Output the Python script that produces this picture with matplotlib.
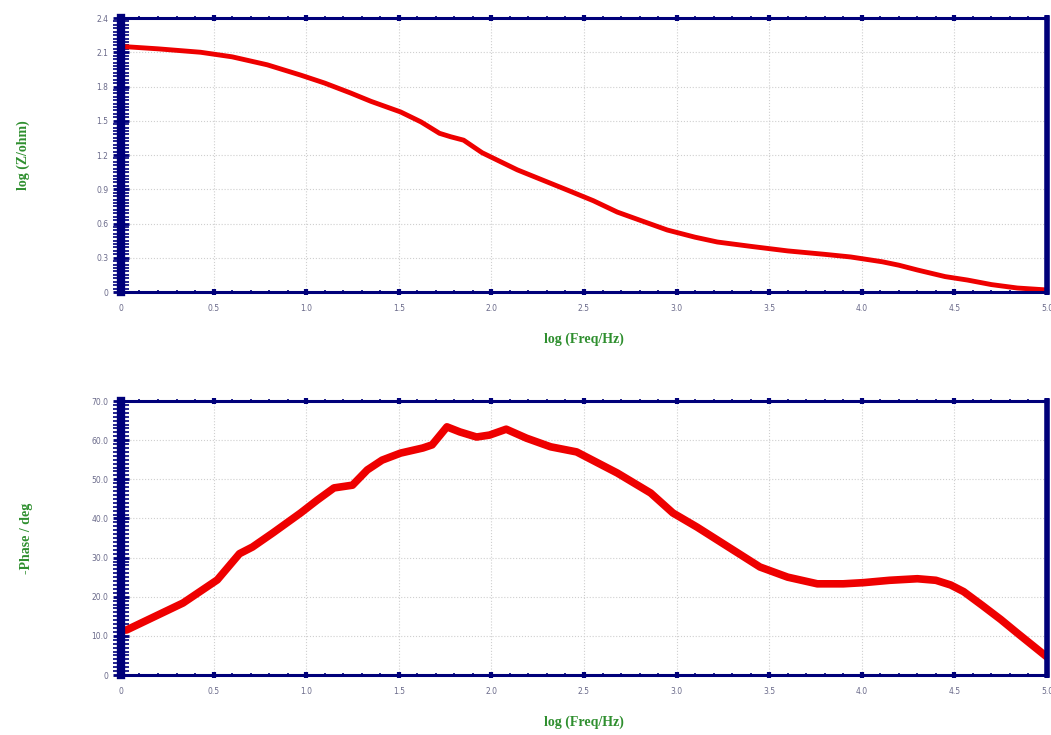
import numpy as np
import matplotlib.pyplot as plt
from matplotlib.ticker import MultipleLocator

# Bode data
freq_mod = [0.0, 0.05, 0.2, 0.43, 0.6, 0.79, 0.97, 1.1, 1.24, 1.35, 1.51, 1.62, 1.72,
            1.78, 1.85, 1.95, 2.14, 2.41, 2.55, 2.68, 2.8, 2.95, 3.1, 3.22, 3.40,
            3.6, 3.8, 3.94, 4.11, 4.2, 4.30, 4.45, 4.57, 4.7, 4.84, 5.0]
log_z = [2.15, 2.146, 2.13, 2.10, 2.06, 1.99, 1.90, 1.83, 1.743, 1.67, 1.577, 1.49,
         1.39, 1.36, 1.33, 1.22, 1.07, 0.893, 0.80, 0.70, 0.63, 0.543, 0.48, 0.438,
         0.40, 0.36, 0.33, 0.307, 0.265, 0.235, 0.193, 0.135, 0.105, 0.065, 0.035, 0.018]

freq_ph = [0.0, 0.03, 0.335, 0.52, 0.64, 0.71, 0.82, 0.97, 1.06, 1.15, 1.25, 1.33,
           1.41, 1.51, 1.63, 1.68, 1.76, 1.83, 1.92, 1.99, 2.08, 2.19, 2.32, 2.46,
           2.68, 2.86, 2.98, 3.11, 3.22, 3.45, 3.6, 3.76, 3.9, 4.01, 4.15, 4.30, 4.4,
           4.48, 4.55, 4.65, 4.75, 4.84, 5.0]
phase = [11.5, 11.5, 18.4, 24.3, 31.0, 32.7, 36.3, 41.4, 44.7, 47.8, 48.5, 52.4,
         54.9, 56.7, 58.0, 58.8, 63.4, 62.1, 60.8, 61.3, 62.8, 60.5, 58.3, 57.0,
         51.6, 46.5, 41.4, 37.8, 34.5, 27.6, 25.0, 23.3, 23.3, 23.6, 24.2, 24.6, 24.2,
         23.0, 21.3, 17.8, 14.2, 10.7, 4.6]

navy = "#00007a"
green = "#2f8f2f"

fig = plt.figure(figsize=(10.51, 7.35), dpi=100)
ax1 = fig.add_axes([0.1151, 0.6027, 0.8811, 0.3728])
ax2 = fig.add_axes([0.1151, 0.0816, 0.8811, 0.3728])

label_font = dict(family="Liberation Serif", fontweight="bold", color=green, fontsize=10)
x_ticks = np.arange(0, 5.01, 0.5)
x_labels = ["0"] + ["%.1f" % v for v in x_ticks[1:]]


def style(ax, ymax, ystep, ylabels):
    ax.set_xlim(0, 5)
    ax.set_ylim(0, ymax)
    ax.set_xticks(x_ticks)
    ax.set_xticklabels(x_labels)
    ax.set_yticks(np.arange(0, ymax + ystep / 2, ystep))
    ax.set_yticklabels(ylabels)
    ax.xaxis.set_minor_locator(MultipleLocator(0.1))
    ax.yaxis.set_minor_locator(MultipleLocator(ystep / 10))
    ax.grid(True, which="major", color="#cfcfcf", linestyle=":", linewidth=0.8)
    for side in ["top", "bottom"]:
        ax.spines[side].set_linewidth(2.2)
        ax.spines[side].set_color(navy)
    ax.spines["left"].set_linewidth(6)
    ax.spines["left"].set_color(navy)
    ax.spines["right"].set_linewidth(4)
    ax.spines["right"].set_color(navy)
    ax.tick_params(which="major", direction="inout", length=5, width=3, color=navy,
                   top=True, labelsize=5.5, labelcolor="#6a6a8a", pad=6)
    ax.tick_params(axis="y", which="major", length=12, width=2, pad=3)
    ax.tick_params(which="minor", direction="inout", length=3, width=1.2, color=navy,
                   top=True)
    ax.tick_params(axis="y", which="minor", length=11, width=1.2)
    ax.set_xlabel("log (Freq/Hz)", labelpad=14, **label_font)


ax1.plot(freq_mod, log_z, color="#ee0000", linewidth=3.5)
style(ax1, 2.4, 0.3, ["0", "0.3", "0.6", "0.9", "1.2", "1.5", "1.8", "2.1", "2.4"])
ax1.set_ylabel("log (Z/ohm)", labelpad=48, **label_font)

ax2.plot(freq_ph, phase, color="#ee0000", linewidth=5.5)
style(ax2, 70, 10, ["0", "10.0", "20.0", "30.0", "40.0", "50.0", "60.0", "70.0"])
ax2.set_ylabel("-Phase / deg", labelpad=42, **label_font)

fig.savefig("out.png", dpi=100)
